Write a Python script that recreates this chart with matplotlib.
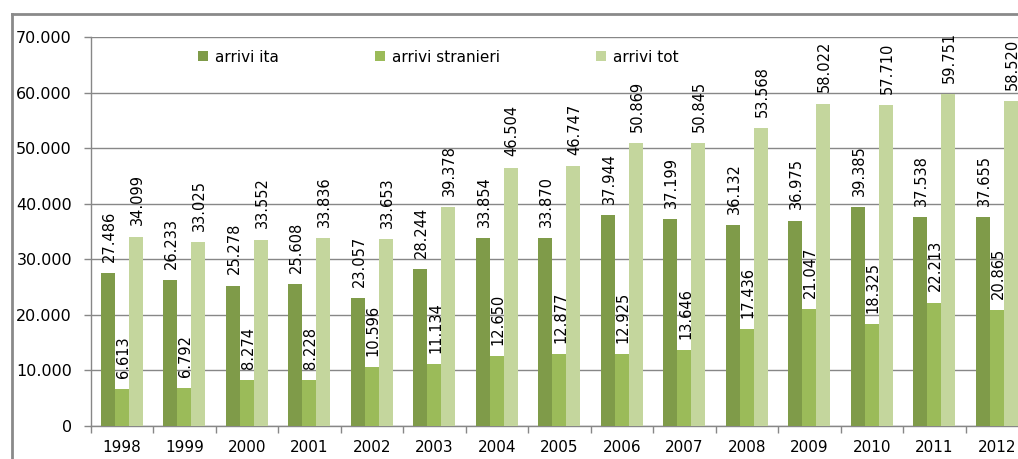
import numpy as np
import matplotlib
matplotlib.use("Agg")
import matplotlib.pyplot as plt
from matplotlib.lines import Line2D
from matplotlib.ticker import FixedLocator, FuncFormatter

years = ["1998", "1999", "2000", "2001", "2002", "2003", "2004", "2005",
         "2006", "2007", "2008", "2009", "2010", "2011", "2012"]
arrivi_ita = [27486, 26233, 25278, 25608, 23057, 28244, 33854, 33870,
              37944, 37199, 36132, 36975, 39385, 37538, 37655]
arrivi_stranieri = [6613, 6792, 8274, 8228, 10596, 11134, 12650, 12877,
                    12925, 13646, 17436, 21047, 18325, 22213, 20865]
arrivi_tot = [34099, 33025, 33552, 33836, 33653, 39378, 46504, 46747,
              50869, 50845, 53568, 58022, 57710, 59751, 58520]
series_names = ["arrivi ita", "arrivi stranieri", "arrivi tot"]
y_ticks = [0, 10000, 20000, 30000, 40000, 50000, 60000, 70000]


def dotted(value):
    return f"{int(value):,}".replace(",", ".")


plt.rcParams["font.family"] = "DejaVu Sans"
W, H = 1018, 459
fig = plt.figure(figsize=(W / 100, H / 100), dpi=100)

# plot area runs past the right edge, like the cropped original
left, right, top, bottom = 90.7, 1028, 37, 426
ax = fig.add_axes([left / W, 1 - bottom / H, (right - left) / W, (bottom - top) / H])

colors = ["#7F9B49", "#9BBB59", "#C4D69D"]
bar_width = 0.224
x = np.arange(len(years))
all_series = [arrivi_ita, arrivi_stranieri, arrivi_tot]
for i, (values, name, color) in enumerate(zip(all_series, series_names, colors)):
    pos = x + (i - 1) * bar_width
    ax.bar(pos, values, width=bar_width, color=color, label=name, zorder=3)
    for px, v in zip(pos, values):
        ax.annotate(dotted(v), (px, v), xytext=(1, 8), textcoords="offset points",
                    rotation=90, ha="center", va="bottom", fontsize=10.5, zorder=4)

ax.set_xlim(-0.5, len(years) - 0.5)
ax.set_ylim(0, 70000)
ax.set_yticks(y_ticks)
ax.yaxis.set_major_formatter(FuncFormatter(lambda v, _: dotted(v)))
ax.yaxis.grid(True, color="#878787", linewidth=1, zorder=0)

ax.xaxis.set_major_locator(FixedLocator(np.arange(-0.5, len(years), 1.0)))
ax.xaxis.set_major_formatter(FuncFormatter(lambda v, _: ""))
ax.xaxis.set_minor_locator(FixedLocator(x))
ax.set_xticklabels(years, minor=True)
ax.tick_params(axis="x", which="major", length=5, color="#878787", width=1)
ax.tick_params(axis="x", which="minor", length=0, pad=10, labelsize=11)
ax.tick_params(axis="y", length=5, color="#878787", width=1, pad=8.5, labelsize=11.5)

for side in ("top", "right"):
    ax.spines[side].set_visible(False)
for side in ("left", "bottom"):
    ax.spines[side].set_color("#878787")
    ax.spines[side].set_linewidth(1)

fig.legend(loc="center left", bbox_to_anchor=(192 / W, 1 - 57 / H), ncol=3,
           frameon=False, fontsize=11, handlelength=0.65, handleheight=0.65,
           handletextpad=0.45, columnspacing=6.3, borderaxespad=0)

# outer chart frame (only top and left edges visible)
fig.add_artist(Line2D([12 / W, 12 / W], [0, 1 - 14 / H], transform=fig.transFigure,
                      color="#8A8A8A", linewidth=2))
fig.add_artist(Line2D([12 / W, 1], [1 - 14 / H, 1 - 14 / H], transform=fig.transFigure,
                      color="#8A8A8A", linewidth=2))

fig.savefig("out.png", dpi=100)
